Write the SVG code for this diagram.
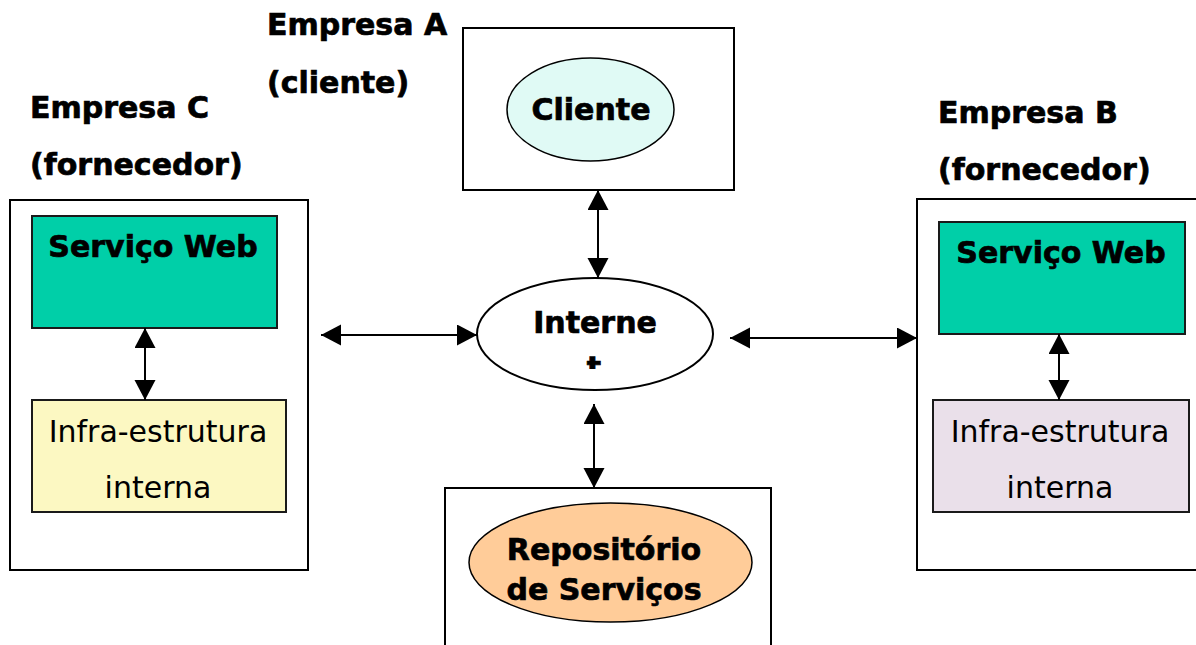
<svg xmlns="http://www.w3.org/2000/svg" width="1196" height="645" viewBox="0 0 1196 645">
  <style>
    .frame { fill: #ffffff; stroke: #000000; stroke-width: 2; }
    .svc { fill: #00CFA8; stroke: #1a1a1a; stroke-width: 2; }
    .bold { font-family: "DejaVu Sans", Verdana, sans-serif; font-weight: bold; font-size: 30px; fill: #000000; stroke: #000000; stroke-width: 0.7; }
    .reg { font-family: "DejaVu Sans", Verdana, sans-serif; font-size: 30px; fill: #000000; }
    .mid { text-anchor: middle; }
    .link { stroke: #000000; stroke-width: 2; fill: none; marker-start: url(#tip); marker-end: url(#tip); }
  </style>
  <defs>
    <marker id="tip" markerUnits="userSpaceOnUse" markerWidth="21" markerHeight="22" refX="20" refY="10.5" orient="auto-start-reverse" viewBox="0 0 21 22">
      <path d="M0,0 L20,10.5 L0,21 z" fill="#000000"/>
    </marker>
    <clipPath id="cut">
      <rect x="560" y="340" width="70" height="29"/>
    </clipPath>
  </defs>
  <rect width="1196" height="645" fill="#ffffff"/>

  <!-- company labels -->
  <g id="label-a">
    <text class="bold" x="267" y="35">Empresa A</text>
    <text class="bold" x="267" y="93">(cliente)</text>
  </g>
  <g id="label-c">
    <text class="bold" x="30" y="118">Empresa C</text>
    <text class="bold" x="30" y="175">(fornecedor)</text>
  </g>
  <g id="label-b">
    <text class="bold" x="938" y="123">Empresa B</text>
    <text class="bold" x="938" y="180">(fornecedor)</text>
  </g>

  <!-- Empresa A: client -->
  <g id="empresa-a">
    <rect class="frame" x="463" y="28" width="271" height="162"/>
    <ellipse cx="590.5" cy="109.5" rx="83.5" ry="51.5" fill="#E0FAF5" stroke="#000000" stroke-width="1.5"/>
    <text class="bold mid" x="591" y="120">Cliente</text>
  </g>

  <!-- Empresa C: supplier -->
  <g id="empresa-c">
    <rect class="frame" x="10" y="200" width="298" height="370"/>
    <rect class="svc" x="32" y="216" width="245" height="112"/>
    <text class="bold mid" x="153" y="257">Serviço Web</text>
    <rect x="32" y="400" width="254" height="112" fill="#FCF8C2" stroke="#1a1a1a" stroke-width="2"/>
    <text class="reg mid" x="158" y="442">Infra-estrutura</text>
    <text class="reg mid" x="158" y="498">interna</text>
  </g>

  <!-- Empresa B: supplier -->
  <g id="empresa-b">
    <rect class="frame" x="917" y="199" width="300" height="371"/>
    <rect class="svc" x="939" y="222" width="246" height="112"/>
    <text class="bold mid" x="1061" y="263">Serviço Web</text>
    <rect x="933" y="400" width="256" height="112" fill="#EAE0EA" stroke="#1a1a1a" stroke-width="2"/>
    <text class="reg mid" x="1060" y="442">Infra-estrutura</text>
    <text class="reg mid" x="1060" y="498">interna</text>
  </g>

  <!-- Internet -->
  <g id="internet">
    <ellipse cx="595" cy="334" rx="118" ry="56" fill="#ffffff" stroke="#000000" stroke-width="2"/>
    <text class="bold mid" x="595" y="333">Interne</text>
    <text class="bold mid" x="594" y="378" clip-path="url(#cut)">t</text>
  </g>

  <!-- service registry -->
  <g id="repositorio">
    <rect class="frame" x="445" y="488" width="326" height="170"/>
    <ellipse cx="610.5" cy="562.5" rx="141.5" ry="59.5" fill="#FFCC99" stroke="#000000" stroke-width="1.5"/>
    <text class="bold mid" x="604" y="560">Repositório</text>
    <text class="bold mid" x="604" y="600">de Serviços</text>
  </g>

  <!-- connectors -->
  <g id="connectors">
    <line class="link" x1="598" y1="190" x2="598" y2="278"/>
    <line class="link" x1="321" y1="335" x2="477" y2="335"/>
    <line class="link" x1="730" y1="338" x2="917" y2="338"/>
    <line class="link" x1="594" y1="404" x2="594" y2="488"/>
    <line class="link" x1="145" y1="328" x2="145" y2="400"/>
    <line class="link" x1="1059" y1="334" x2="1059" y2="400"/>
  </g>
</svg>
